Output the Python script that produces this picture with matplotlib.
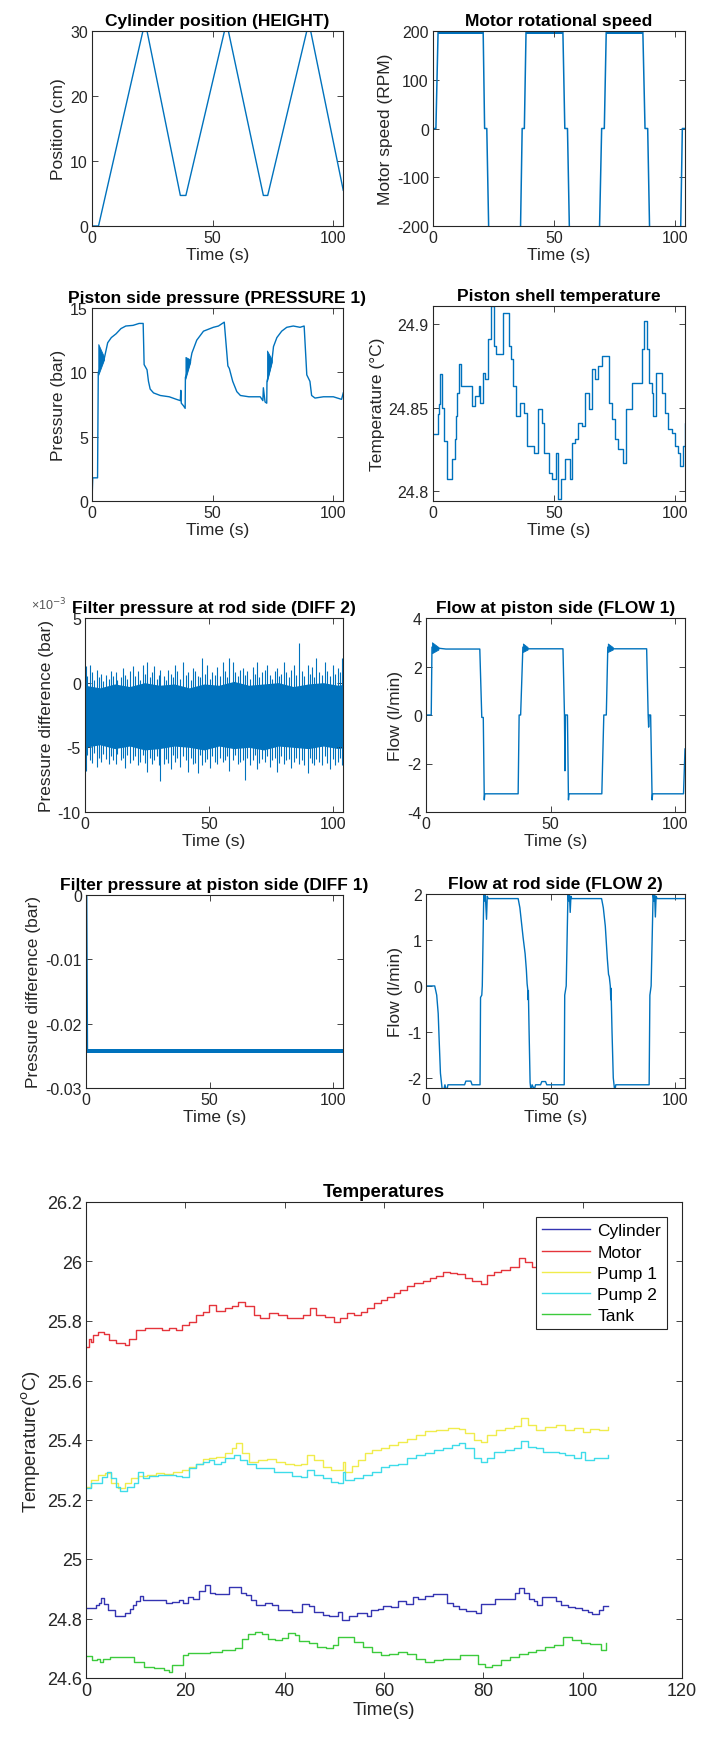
import numpy as np
import matplotlib.pyplot as plt
from matplotlib.ticker import FuncFormatter, MultipleLocator

plt.rcParams['font.family'] = ['Liberation Sans', 'DejaVu Sans']

##############################################################
########################## DATA ##############################
##############################################################

# Cylinder position (cm)
pos_t = [0, 2.7, 21.1, 22.8, 36.6, 38.9, 54.9, 56.5, 71.0, 72.8, 89.0, 90.6, 104.1]
pos_cm = [0, 0, 30, 30, 4.7, 4.7, 30, 30, 4.7, 4.7, 30, 30, 5.5]

# Motor speed (RPM)
spd_t = [0, 1.2, 2.1, 20.7, 21.3, 22.2, 23.0, 36.1, 36.8, 37.7, 38.4, 53.6, 54.4, 55.5, 56.3,
         68.7, 69.6, 70.7, 71.5, 86.6, 87.5, 88.6, 89.4, 102.2, 102.9, 104.5]
spd_rpm = [0, 0, 200, 200, 0, 0, -210, -210, 0, 0, 200, 200, 0, 0, -210,
           -210, 0, 0, 200, 200, 0, 0, -210, -210, 0, 0]
spd_ripple = 6  # RPM, half width of the ripple on the 200 RPM plateau

# Piston side pressure (bar)
p_t = [0, 0.3, 2.3, 2.6, 5.0, 6.5, 8.0, 10.0, 12.0, 14.0, 17.0, 19.5, 21.2, 21.6, 22.8, 23.4,
       24.1, 25.5, 28.3, 32.0, 35.0, 36.6, 36.8, 37.0, 37.9, 38.6, 38.7, 40.7, 41.4, 43.4, 46.2,
       50.3, 52.4, 54.8, 56.3, 56.9, 58.3, 60.0, 61.5, 65.0, 69.7, 70.8, 71.0, 71.7, 72.4, 72.5,
       74.5, 75.2, 76.6, 78.6, 80.7, 83.4, 86.2, 87.9, 89.0, 90.3, 91.0, 92.4, 95.9, 100.0,
       103.4, 104.1]
p_bar = [0, 1.8, 1.8, 10.0, 11.0, 12.3, 12.7, 13.0, 13.4, 13.6, 13.65, 13.8, 13.8, 10.6, 10.2, 9.3,
         8.7, 8.4, 8.2, 8.1, 7.9, 7.8, 8.6, 7.6, 7.4, 7.2, 9.6, 10.8, 11.5, 12.5, 13.2,
         13.5, 13.6, 13.9, 10.5, 10.3, 9.3, 8.5, 8.2, 8.1, 8.1, 7.8, 8.8, 7.7, 7.6, 9.3,
         10.8, 12.0, 12.7, 13.2, 13.5, 13.6, 13.5, 13.6, 9.8, 9.3, 8.2, 8.0, 8.1, 8.1,
         7.9, 8.4]
# oscillation wedges at the start of each stroke
p_wedge_t = [[2.6, 5.0], [38.7, 40.7], [72.5, 74.5]]
p_wedge_lo = [[9.8, 11.0], [9.5, 10.8], [9.3, 10.8]]
p_wedge_hi = [[12.2, 11.2], [11.2, 11.0], [11.7, 11.0]]

# Piston shell / cylinder temperature (C)
cyl_t = [0.0, 2.1, 2.6, 3.0, 3.7, 4.4, 5.8, 7.8, 8.9, 9.5, 10.0, 10.9, 11.5, 16.1, 17.4, 18.8,
         19.5, 20.5, 21.6, 22.7, 24.0, 25.0, 26.0, 28.7, 31.2, 32.3, 33.2, 34.3, 36.0, 37.4,
         38.7, 41.5, 43.5, 44.9, 46.0, 47.7, 49.0, 50.7, 51.5, 52.9, 54.5, 56.6, 57.3, 58.7,
         59.8, 61.4, 62.8, 64.4, 65.8, 66.9, 68.3, 69.9, 72.7, 73.8, 75.1, 76.5, 78.5, 79.5,
         80.4, 82.3, 86.4, 87.2, 88.2, 89.1, 90.2, 90.9, 91.9, 94.6, 95.7, 97.1, 98.5, 99.9,
         101.0, 101.9, 103.3, 104.0, 105.0]
cyl_T = [24.834, 24.846, 24.852, 24.870, 24.850, 24.830, 24.807, 24.819, 24.831, 24.845, 24.859,
         24.876, 24.863, 24.851, 24.857, 24.863, 24.853, 24.871, 24.867, 24.891, 24.911, 24.887,
         24.882, 24.907, 24.887, 24.879, 24.863, 24.845, 24.853, 24.847, 24.827, 24.823, 24.849,
         24.841, 24.823, 24.811, 24.807, 24.823, 24.795, 24.807, 24.819, 24.807, 24.829, 24.831,
         24.841, 24.839, 24.859, 24.849, 24.873, 24.867, 24.875, 24.881, 24.853, 24.843, 24.831,
         24.825, 24.817, 24.849, 24.849, 24.865, 24.885, 24.902, 24.885, 24.865, 24.859, 24.845,
         24.871, 24.859, 24.847, 24.837, 24.835, 24.827, 24.823, 24.815, 24.827, 24.841, 24.841]

# Filter pressure at rod side, DIFF 2 (x1e-3 bar): dense band + individual excursions
d2_env_t = [0, 6, 12, 18, 24, 30, 36, 42, 48, 54, 60, 66, 72, 78, 84, 90, 96, 102, 105]
d2_upper = [-0.2, -0.4, -0.1, -0.3, 0.0, -0.2, -0.1, -0.4, -0.1, -0.2, 0.1, -0.2, -0.1, 0.0, -0.3,
            -0.1, 0.0, -0.2, -0.1]
d2_lower = [-5.0, -4.8, -5.1, -4.9, -5.2, -5.1, -4.9, -5.0, -5.2, -4.9, -5.1, -5.0, -5.2, -4.9,
            -5.0, -5.1, -4.9, -5.1, -5.0]
d2_t = [0.4, 1.0, 1.9, 2.7, 3.6, 4.8, 5.5, 6.6, 7.4, 8.6,
        9.5, 10.4, 11.3, 12.3, 13.1, 14.4, 15.3, 16.2, 17.1, 18.3,
        19.2, 20.1, 21.2, 22.0, 23.3, 24.2, 25.1, 26.0, 27.0, 27.8,
        28.9, 29.8, 30.1, 31.9, 32.7, 33.6, 34.6, 35.4, 36.3, 37.2,
        38.3, 39.7, 40.6, 41.5, 42.6, 43.5, 44.5, 45.4, 46.4, 47.3,
        48.3, 49.3, 50.2, 51.3, 52.3, 53.2, 54.3, 55.5, 56.4, 57.3,
        58.2, 59.6, 60.5, 61.5, 62.6, 63.7, 64.5, 65.5, 66.6, 67.6,
        68.4, 69.2, 70.3, 71.3, 72.4, 73.3, 74.5, 75.5, 76.4, 77.4,
        78.4, 79.2, 80.1, 81.0, 82.2, 83.2, 84.2, 85.2, 86.3, 87.3,
        88.3, 89.7, 90.6, 91.5, 92.3, 93.2, 94.3, 95.4, 96.6, 97.6,
        98.6, 100.0, 100.9, 101.9, 102.7, 103.4]
d2_hi = [1.3, 0.5, 1.4, 0.8, 0.2, 1.0, 0.4, 0.7, 0.1, 0.6,
         0.3, 0.9, 0.5, 0.8, 0.2, 0.4, 1.1, 0.6, 0.3, 0.9,
         1.3, 0.5, 0.9, 0.2, 1.4, 0.7, 1.6, 0.4, 0.8, 1.3,
         0.3, 0.6, 1.0, 0.5, 0.2, 1.0, 0.7, 0.4, 1.4, 0.9,
         0.3, 1.6, 0.6, 0.8, 0.2, 1.1, 0.9, 0.5, 0.4, 1.9,
         0.7, 1.4, 0.3, 0.8, 0.6, 1.2, 0.5, 1.6, 0.9, 0.4,
         1.9, 1.6, 0.8, 0.5, 1.0, 1.1, 0.6, 0.9, 0.3, 1.2,
         0.7, 1.6, 0.4, 0.8, 1.0, 1.4, 0.6, 0.3, 0.9, 1.1,
         0.5, 0.7, 1.6, 0.8, 0.4, 1.0, 1.4, 0.6, 3.1, 0.9,
         0.5, 1.4, 0.7, 1.2, 0.4, 1.9, 0.8, 0.6, 1.6, 0.9,
         0.5, 1.4, 0.7, 1.1, 0.8, 1.9]
d2_lo = [-6.8, -5.6, -6.0, -6.2, -5.4, -6.5, -5.8, -6.1, -5.5, -5.9,
         -6.3, -5.7, -6.0, -6.3, -5.5, -6.0, -5.8, -6.6, -5.6, -6.2,
         -6.0, -5.7, -6.4, -6.1, -5.6, -6.2, -6.9, -5.8, -6.3, -6.0,
         -5.7, -6.4, -7.6, -6.3, -5.9, -6.2, -6.7, -5.6, -6.1, -5.8,
         -6.5, -5.7, -6.0, -6.9, -5.8, -6.3, -6.2, -7.0, -5.6, -6.4,
         -6.1, -5.9, -6.6, -5.7, -6.1, -6.3, -5.8, -6.1, -6.0, -5.7,
         -6.8, -6.0, -5.6, -6.3, -6.1, -6.0, -7.5, -5.8, -6.4, -6.0,
         -5.6, -6.7, -6.2, -5.9, -6.1, -5.7, -6.5, -6.0, -5.8, -6.9,
         -6.2, -5.7, -6.3, -6.0, -5.9, -6.6, -6.1, -5.8, -6.3, -6.0,
         -6.4, -7.0, -5.8, -6.2, -6.4, -5.9, -6.1, -6.4, -5.7, -6.2,
         -6.7, -5.9, -6.4, -6.1, -5.8, -6.4]

# Flow at piston side, FLOW 1 (l/min)
f1_t = [0, 2.1, 2.4, 5.4, 8.0, 21.6, 22.4, 23.0, 23.4, 23.6, 37.0, 37.4, 38.0, 38.9, 41.0, 55.0,
        55.6, 55.8, 56.0, 56.8, 57.2, 57.4, 70.6, 71.4, 72.4, 73.0, 75.0, 88.6, 89.2, 89.4, 89.6,
        90.2, 90.8, 91.0, 103.4, 104.0]
f1_flow = [0, 0, 2.8, 2.75, 2.72, 2.72, -0.1, -0.1, -3.5, -3.25, -3.25, 0, 0, 2.8, 2.73, 2.73,
           0, -2.3, 0, 0, -3.5, -3.25, -3.25, 0, 0, 2.8, 2.73, 2.73, 0, -0.5, 0,
           0, -3.5, -3.25, -3.25, -1.4]
f1_wedge_t = [[2.4, 5.0], [38.9, 40.8], [73.0, 75.0]]
f1_wedge_lo = [[2.55, 2.7], [2.6, 2.7], [2.6, 2.7]]
f1_wedge_hi = [[3.0, 2.8], [2.95, 2.8], [2.95, 2.8]]

# Filter pressure at piston side, DIFF 1 (bar)
d1_t = [0, 0.3, 0.6, 104.5]
d1_bar = [0, 0, -0.0243, -0.0243]
d1_noise = 0.0003

# Flow at rod side, FLOW 2 (l/min)
f2_t = [0, 3.5, 4.3, 4.9, 5.3, 5.8, 6.5, 7.0, 7.6, 8.3, 8.8, 15.5, 16.0, 18.0, 18.5, 21.7, 21.9,
        22.4, 22.6, 23.2, 23.5, 23.8, 24.3, 24.6, 25.0, 37.0, 37.7, 38.3, 39.0, 39.8, 40.3, 40.6,
        40.9, 41.0, 41.1, 41.4, 41.8, 42.2, 42.6, 43.5, 44.0, 46.0, 46.5, 48.0, 48.5, 55.5, 55.7,
        56.3, 57.0, 57.3, 57.6, 57.9, 58.2, 58.5, 70.5, 71.2, 72.0, 72.8, 73.3, 73.6, 74.0, 74.2,
        74.3, 74.7, 75.2, 75.8, 76.2, 89.6, 89.9, 90.4, 91.2, 91.5, 91.8, 92.1, 92.4, 92.8, 104.5]
f2_flow = [0, 0, -0.2, -0.6, -1.2, -1.9, -2.25, -2.3, -2.15, -2.3, -2.15, -2.15, -2.07, -2.07, -2.15,
           -2.15, -0.25, -0.2, 0.0, 2.0, 1.85, 2.0, 1.45, 1.95, 1.9, 1.9, 1.7, 1.4, 1.05, 0.7, 0.35,
           0.05, -0.1, -0.3, -0.1, -1.0, -2.1, -2.3, -2.15, -2.25, -2.15, -2.15, -2.08, -2.08, -2.15,
           -2.15, -0.2, 0.0, 2.0, 1.85, 2.0, 1.6, 1.95, 1.9, 1.9, 1.7, 1.3, 0.6, 0.25, 0.2, 0.0,
           -0.3, -0.05, -1.0, -2.0, -2.3, -2.15, -2.15, -0.2, 0.0, 2.0, 1.85, 2.0, 1.5, 1.95, 1.9, 1.9]

# Temperatures (C)
motor_t = [0, 0.6, 1.1, 1.5, 2.4, 3.6, 4.7, 6.0, 7.8, 8.7, 10.0, 11.8, 14.1, 15.4, 16.8, 18.1, 19.4,
           20.8, 22.1, 23.5, 24.8, 26.2, 28.0, 29.3, 30.6, 32.0, 33.8, 35.1, 36.9, 38.7, 40.5, 42.3,
           43.6, 45.0, 46.3, 48.1, 49.9, 51.2, 52.6, 53.9, 55.3, 56.6, 57.9, 59.3, 60.6, 62.0, 63.3,
           64.7, 66.0, 67.8, 69.2, 70.5, 71.9, 73.2, 74.6, 76.4, 77.7, 79.5, 80.8, 82.2, 83.5, 85.3,
           87.1, 88.4, 89.8, 92.0, 95.0, 98.0, 101.0, 105.0]
motor_T = [25.713, 25.74, 25.73, 25.753, 25.762, 25.755, 25.736, 25.725, 25.718, 25.74, 25.77, 25.775,
           25.778, 25.77, 25.775, 25.77, 25.786, 25.798, 25.82, 25.83, 25.854, 25.835, 25.843, 25.85,
           25.865, 25.85, 25.82, 25.81, 25.826, 25.82, 25.809, 25.811, 25.82, 25.843, 25.82, 25.815,
           25.798, 25.809, 25.826, 25.82, 25.83, 25.843, 25.86, 25.871, 25.882, 25.893, 25.904, 25.916,
           25.927, 25.933, 25.944, 25.95, 25.966, 25.96, 25.957, 25.944, 25.933, 25.924, 25.955, 25.966,
           25.972, 25.983, 26.011, 26.0, 25.983, 25.98, 25.99, 25.98, 25.99, 25.985]

pump1_t = [0, 1.1, 2.4, 3.8, 5.1, 6.5, 7.8, 9.1, 10.5, 12.3, 14.1, 15.8, 17.6, 19.4, 20.8, 22.1, 23.5,
           24.8, 26.2, 28.0, 29.3, 30.2, 31.5, 32.9, 34.7, 36.4, 38.2, 40.0, 41.8, 43.2, 44.5, 45.9,
           47.7, 49.4, 51.2, 51.7, 52.1, 53.5, 54.8, 56.2, 57.5, 59.3, 61.1, 62.9, 64.7, 66.5, 68.3,
           70.5, 72.8, 75.0, 76.4, 78.1, 79.5, 80.8, 82.6, 84.4, 86.2, 87.5, 88.9, 90.7, 92.5, 94.7,
           96.5, 98.3, 100.0, 101.4, 103.2, 105.0]
pump1_T = [25.243, 25.265, 25.282, 25.288, 25.254, 25.237, 25.254, 25.271, 25.28, 25.282, 25.288, 25.285,
           25.293, 25.299, 25.31, 25.321, 25.336, 25.338, 25.344, 25.355, 25.372, 25.389, 25.355, 25.327,
           25.332, 25.335, 25.327, 25.321, 25.316, 25.321, 25.35, 25.332, 25.31, 25.3, 25.3, 25.327,
           25.293, 25.313, 25.333, 25.355, 25.366, 25.372, 25.383, 25.394, 25.405, 25.417, 25.43, 25.434,
           25.441, 25.438, 25.422, 25.4, 25.394, 25.417, 25.434, 25.441, 25.448, 25.473, 25.45, 25.434,
           25.445, 25.45, 25.434, 25.441, 25.428, 25.438, 25.434, 25.445]

pump2_t = [0, 1.1, 3.3, 4.2, 5.1, 6.0, 6.9, 8.2, 9.6, 10.5, 11.4, 12.7, 14.5, 16.3, 18.1, 19.4, 20.8,
           22.1, 23.5, 24.8, 25.7, 27.1, 28.0, 29.7, 31.1, 32.4, 34.2, 36.0, 37.8, 39.6, 41.4, 43.2,
           44.5, 45.9, 47.7, 49.4, 50.8, 51.7, 52.1, 53.9, 55.7, 57.5, 59.3, 61.1, 62.9, 64.7, 66.5,
           68.3, 70.1, 71.9, 73.7, 75.0, 76.4, 78.1, 79.5, 80.8, 82.2, 84.4, 86.2, 87.5, 88.9, 90.7,
           92.0, 93.4, 95.2, 96.5, 98.3, 99.6, 100.5, 102.3, 103.7, 105.0]
pump2_T = [25.237, 25.254, 25.277, 25.293, 25.271, 25.243, 25.228, 25.243, 25.254, 25.293, 25.271, 25.28,
           25.282, 25.284, 25.28, 25.277, 25.305, 25.321, 25.327, 25.333, 25.321, 25.327, 25.338, 25.35,
           25.333, 25.318, 25.305, 25.305, 25.291, 25.293, 25.28, 25.277, 25.299, 25.282, 25.271, 25.26,
           25.257, 25.293, 25.266, 25.271, 25.284, 25.293, 25.31, 25.316, 25.321, 25.338, 25.35, 25.355,
           25.366, 25.372, 25.383, 25.389, 25.372, 25.338, 25.325, 25.338, 25.361, 25.366, 25.372, 25.397,
           25.377, 25.372, 25.361, 25.361, 25.355, 25.35, 25.338, 25.361, 25.333, 25.338, 25.338, 25.35]

tank_t = [0, 1.2, 2.2, 2.9, 3.5, 4.9, 9.6, 11.7, 13.7, 15.7, 16.7, 17.4, 19.5, 20.5, 24.9, 27.3, 30.0,
          31.4, 32.7, 34.0, 35.4, 36.7, 38.0, 39.4, 40.7, 42.1, 42.8, 44.9, 46.6, 48.4, 49.7, 50.8,
          52.2, 54.0, 55.7, 57.5, 59.3, 61.1, 62.9, 64.7, 66.5, 68.3, 70.1, 71.9, 73.7, 75.4, 77.2,
          79.0, 80.4, 81.7, 83.5, 85.3, 87.1, 88.9, 90.7, 92.5, 94.3, 96.0, 97.8, 99.6, 101.4, 103.7,
          104.6]
tank_T = [24.675, 24.66, 24.665, 24.655, 24.665, 24.67, 24.655, 24.638, 24.632, 24.626, 24.62, 24.643,
          24.677, 24.683, 24.689, 24.694, 24.702, 24.73, 24.747, 24.755, 24.747, 24.73, 24.728, 24.736,
          24.75, 24.745, 24.725, 24.716, 24.704, 24.70, 24.71, 24.738, 24.738, 24.721, 24.704, 24.688,
          24.676, 24.682, 24.688, 24.682, 24.665, 24.654, 24.66, 24.665, 24.665, 24.676, 24.676, 24.648,
          24.637, 24.643, 24.66, 24.67, 24.682, 24.688, 24.693, 24.704, 24.71, 24.738, 24.727, 24.716,
          24.713, 24.693, 24.716]

temp_names = ['Cylinder', 'Motor', 'Pump 1', 'Pump 2', 'Tank']
temp_colors = ['#3434B2', '#E5343B', '#F0EC4C', '#3EDCEA', '#3CCB3C']

##############################################################
######################### FIGURE #############################
##############################################################

blue = '#0072BD'
ink = '#262626'
W, H = 704, 1740
fig = plt.figure(figsize=(W / 100, H / 100), dpi=100)


def px_axes(x0, x1, y0, y1):
    return fig.add_axes([x0 / W, 1 - y1 / H, (x1 - x0) / W, (y1 - y0) / H])


def style(ax, title, ylabel, xlabel='Time (s)', fs=11.5, lfs=12.5):
    for s in ax.spines.values():
        s.set_color(ink)
        s.set_linewidth(0.8)
    ax.tick_params(direction='in', top=True, right=True, length=4, width=0.6,
                   labelsize=fs, colors=ink, pad=3)
    ax.yaxis.set_major_formatter(FuncFormatter(lambda v, p: f'{v:g}'))
    ax.set_title(title, fontsize=lfs, fontweight='bold', pad=4)
    ax.set_ylabel(ylabel, fontsize=lfs, color=ink, labelpad=3)
    ax.set_xlabel(xlabel, fontsize=lfs, color=ink, labelpad=1)


# Cylinder position
ax = px_axes(92, 343, 32, 227)
ax.plot(pos_t, pos_cm, color=blue, lw=1)
ax.set_xlim(0, 104)
ax.set_ylim(0, 30)
ax.set_yticks([0, 10, 20, 30])
ax.set_xticks([0, 50, 100])
style(ax, 'Cylinder position (HEIGHT)', 'Position (cm)')

# Motor speed
ax = px_axes(433, 685, 32, 227)
spd = np.array(spd_rpm, dtype=float)
ax.fill_between(spd_t, spd - spd_ripple, spd + spd_ripple, where=spd >= 200, color=blue, lw=0)
ax.plot(spd_t, spd, color=blue, lw=1.1)
ax.set_xlim(0, 104)
ax.set_ylim(-200, 200)
ax.set_yticks([-200, -100, 0, 100, 200])
ax.set_xticks([0, 50, 100])
style(ax, 'Motor rotational speed', 'Motor speed (RPM)')

# Piston side pressure
ax = px_axes(92, 343, 309, 502)
for wt, lo, hi in zip(p_wedge_t, p_wedge_lo, p_wedge_hi):
    ax.fill_between(wt, lo, hi, color=blue, lw=0.6, edgecolor=blue)
ax.plot(p_t, p_bar, color=blue, lw=1)
ax.set_xlim(0, 104)
ax.set_ylim(0, 15)
ax.set_yticks([0, 5, 10, 15])
ax.set_xticks([0, 50, 100])
style(ax, 'Piston side pressure (PRESSURE 1)', 'Pressure (bar)')

# Piston shell temperature
ax = px_axes(433, 685, 307, 502)
ax.step(cyl_t, cyl_T, where='post', color=blue, lw=1)
ax.set_xlim(0, 104)
ax.set_ylim(24.794, 24.911)
ax.set_yticks([24.8, 24.85, 24.9])
ax.set_xticks([0, 50, 100])
style(ax, 'Piston shell temperature', 'Temperature (°C)')

# DIFF 2
ax = px_axes(85, 343, 619, 813)
ax.fill_between(d2_env_t, d2_lower, d2_upper, color=blue, lw=0)
ax.vlines(d2_t, d2_lo, d2_hi, color=blue, lw=0.8)
ax.set_xlim(0, 104)
ax.set_ylim(-10, 5)
ax.set_yticks([-10, -5, 0, 5])
ax.set_xticks([0, 50, 100])
style(ax, 'Filter pressure at rod side (DIFF 2)', 'Pressure difference (bar)')
# axis multiplier sits up-left, clear of the title and the top tick label
ax.text(-0.07, 1.03, '×10$^{-3}$', transform=ax.transAxes, fontsize=9, color='#555555',
        ha='right', va='bottom')

# FLOW 1
ax = px_axes(426, 685, 619, 813)
for wt, lo, hi in zip(f1_wedge_t, f1_wedge_lo, f1_wedge_hi):
    ax.fill_between(wt, lo, hi, color=blue, lw=0.6, edgecolor=blue)
ax.plot(f1_t, f1_flow, color=blue, lw=1)
ax.set_xlim(0, 104)
ax.set_ylim(-4, 4)
ax.set_yticks([-4, -2, 0, 2, 4])
ax.set_xticks([0, 50, 100])
style(ax, 'Flow at piston side (FLOW 1)', 'Flow (l/min)')

# DIFF 1
ax = px_axes(86, 343, 896, 1089)
d1 = np.array(d1_bar)
ax.fill_between(d1_t[2:], d1[2:] - d1_noise, d1[2:] + d1_noise, color=blue, lw=0)
ax.plot(d1_t, d1_bar, color=blue, lw=1)
ax.set_xlim(0, 104)
ax.set_ylim(-0.03, 0)
ax.set_yticks([-0.03, -0.02, -0.01, 0])
ax.set_xticks([0, 50, 100])
style(ax, 'Filter pressure at piston side (DIFF 1)', 'Pressure difference (bar)')

# FLOW 2
ax = px_axes(426, 685, 895, 1089)
ax.plot(f2_t, f2_flow, color=blue, lw=1)
ax.set_xlim(0, 104)
ax.set_ylim(-2.22, 2)
ax.set_yticks([-2, -1, 0, 1, 2])
ax.set_xticks([0, 50, 100])
style(ax, 'Flow at rod side (FLOW 2)', 'Flow (l/min)')

# Temperatures
ax = px_axes(86, 682, 1203, 1679)
series = [(cyl_t, cyl_T), (motor_t, motor_T), (pump1_t, pump1_T), (pump2_t, pump2_T), (tank_t, tank_T)]
for (t, T), name, c in zip(series, temp_names, temp_colors):
    ax.step(t, T, where='post', color=c, lw=1, label=name)
ax.set_xlim(0, 120)
ax.set_ylim(24.6, 26.2)
ax.xaxis.set_major_locator(MultipleLocator(20))
ax.yaxis.set_major_locator(MultipleLocator(0.2))
style(ax, 'Temperatures', 'Temperature($^{\\mathrm{o}}$C)', xlabel='Time(s)', fs=13, lfs=13.5)
leg = ax.legend(loc='upper right', bbox_to_anchor=(0.975, 0.968), fontsize=12.5, frameon=True,
                fancybox=False, edgecolor=ink, framealpha=1, handlelength=2.8,
                labelspacing=0.35, borderpad=0.35, handletextpad=0.4, borderaxespad=0)
leg.get_frame().set_linewidth(0.8)

plt.savefig('out.png', dpi=100)
